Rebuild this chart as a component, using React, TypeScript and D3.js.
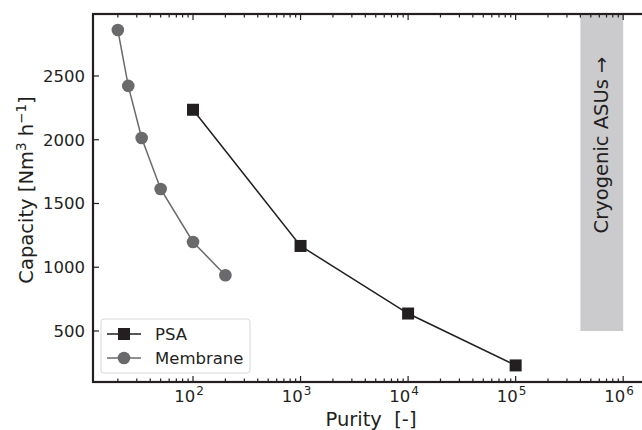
import React from "react";
import * as d3 from "d3";

// Purity and capacity for each separation technology
const psaPurity = [100, 1000, 10000, 100000];
const psaCapacity = [2235, 1167, 637, 230];
const membranePurity = [20, 25, 33.3, 50, 100, 200];
const membraneCapacity = [2860, 2422, 2014, 1614, 1198, 937];
const cryoRange = { purityFrom: 4e5, purityTo: 1e6, capacityFrom: 500 };
const yTicks = [500, 1000, 1500, 2000, 2500];
const xDecades = [2, 3, 4, 5, 6];

const W = 642;
const H = 430;
const left = 93;
const right = 649;
const top = 14;
const bottom = 382;

const FONT = "'DejaVu Sans', sans-serif";
const PSA_COLOR = "#231f20";
const MEM_COLOR = "#6a6a6d";

export default function App() {
  const x = d3
    .scaleLog()
    .domain([Math.pow(10, 1.07), Math.pow(10, 6.24)])
    .range([left, right]);
  const y = d3.scaleLinear().domain([100, 2986]).range([bottom, top]);

  const line = d3
    .line<[number, number]>()
    .x((d) => x(d[0]))
    .y((d) => y(d[1]));

  const psaPts: [number, number][] = psaPurity.map((p, i) => [p, psaCapacity[i]]);
  const memPts: [number, number][] = membranePurity.map((p, i) => [p, membraneCapacity[i]]);

  // minor ticks for the log axis
  const [d0, d1] = x.domain();
  const minor: number[] = [];
  for (let e = 1; e <= 6; e++) {
    for (let k = 2; k <= 9; k++) {
      const v = k * Math.pow(10, e);
      if (v > d0 && v < d1) minor.push(v);
    }
  }
  const major = xDecades.map((e) => Math.pow(10, e));

  const cx0 = x(cryoRange.purityFrom);
  const cx1 = x(cryoRange.purityTo);
  const cy = y(cryoRange.capacityFrom);

  return (
    <svg width={W} height={H} style={{ position: "absolute", left: 0, top: 0 }}>
      <defs>
        <clipPath id="plotArea">
          <rect x={left} y={top} width={right - left} height={bottom - top} />
        </clipPath>
      </defs>
      <rect width={W} height={H} fill="#fff" />

      {/* cryogenic band */}
      <rect x={cx0} y={top} width={cx1 - cx0} height={cy - top} fill="#cbcbcd" />
      <text
        transform={`translate(${(cx0 + cx1) / 2 + 6},145) rotate(-90)`}
        textAnchor="middle"
        fontFamily={FONT}
        fontSize={19.5}
        fill="#231f20"
      >
        Cryogenic ASUs →
      </text>

      <g clipPath="url(#plotArea)">
        <path d={line(memPts) ?? ""} fill="none" stroke={MEM_COLOR} strokeWidth={1.5} />
        {memPts.map((d, i) => (
          <circle key={i} cx={x(d[0])} cy={y(d[1])} r={6.3} fill={MEM_COLOR} />
        ))}
        <path d={line(psaPts) ?? ""} fill="none" stroke={PSA_COLOR} strokeWidth={1.5} />
        {psaPts.map((d, i) => (
          <rect key={i} x={x(d[0]) - 6} y={y(d[1]) - 6} width={12} height={12} fill={PSA_COLOR} />
        ))}
      </g>

      {/* ticks */}
      <g stroke="#231f20" strokeWidth={1.2}>
        {major.map((v) => (
          <g key={v}>
            <line x1={x(v)} x2={x(v)} y1={bottom} y2={bottom - 6} />
            <line x1={x(v)} x2={x(v)} y1={top} y2={top + 6} />
          </g>
        ))}
        {minor.map((v) => (
          <g key={v}>
            <line x1={x(v)} x2={x(v)} y1={bottom} y2={bottom - 3.5} />
            <line x1={x(v)} x2={x(v)} y1={top} y2={top + 3.5} />
          </g>
        ))}
        {yTicks.map((v) => (
          <g key={v}>
            <line x1={left} x2={left + 6} y1={y(v)} y2={y(v)} />
            <line x1={right} x2={right - 6} y1={y(v)} y2={y(v)} />
          </g>
        ))}
      </g>

      {/* spines */}
      <rect
        x={left}
        y={top}
        width={right - left}
        height={bottom - top}
        fill="none"
        stroke="#231f20"
        strokeWidth={2.2}
      />

      {/* tick labels */}
      <g fontFamily={FONT} fontSize={16.5} fill="#231f20">
        {yTicks.map((v) => (
          <text key={v} x={left - 8} y={y(v)} dy="0.36em" textAnchor="end">
            {v}
          </text>
        ))}
        {xDecades.map((e) => (
          <text key={e} x={x(Math.pow(10, e)) - 4} y={bottom + 20} textAnchor="middle">
            10
            <tspan dx={1} dy={-7} fontSize={12}>
              {e}
            </tspan>
          </text>
        ))}
      </g>

      {/* axis titles */}
      <text
        x={(left + right) / 2}
        y={426}
        textAnchor="middle"
        fontFamily={FONT}
        fontSize={19.5}
        fill="#231f20"
        style={{ whiteSpace: "pre" }}
      >
        {"Purity  [-]"}
      </text>
      <text
        transform={`translate(33,190) rotate(-90)`}
        textAnchor="middle"
        fontFamily={FONT}
        fontSize={19.5}
        fill="#231f20"
      >
        Capacity [Nm
        <tspan dy={-7.5} fontSize={13.5}>3</tspan>
        <tspan dy={7.5}> h</tspan>
        <tspan dy={-7.5} fontSize={13.5}>−1</tspan>
        <tspan dy={7.5}>]</tspan>
      </text>

      {/* legend */}
      <g>
        <rect x={101} y={319} width={149} height={54} rx={3} fill="#fff" fillOpacity={0.85} stroke="#d8d8d8" strokeWidth={1} />
        <line x1={107} x2={141} y1={334} y2={334} stroke={PSA_COLOR} strokeWidth={1.5} />
        <rect x={118} y={328} width={12} height={12} fill={PSA_COLOR} />
        <text x={155} y={334} dy="0.36em" fontFamily={FONT} fontSize={16.5} fill="#231f20">
          PSA
        </text>
        <line x1={107} x2={141} y1={358} y2={358} stroke={MEM_COLOR} strokeWidth={1.5} />
        <circle cx={124} cy={358} r={6.3} fill={MEM_COLOR} />
        <text x={155} y={358} dy="0.36em" fontFamily={FONT} fontSize={16.5} fill="#231f20">
          Membrane
        </text>
      </g>
    </svg>
  );
}
